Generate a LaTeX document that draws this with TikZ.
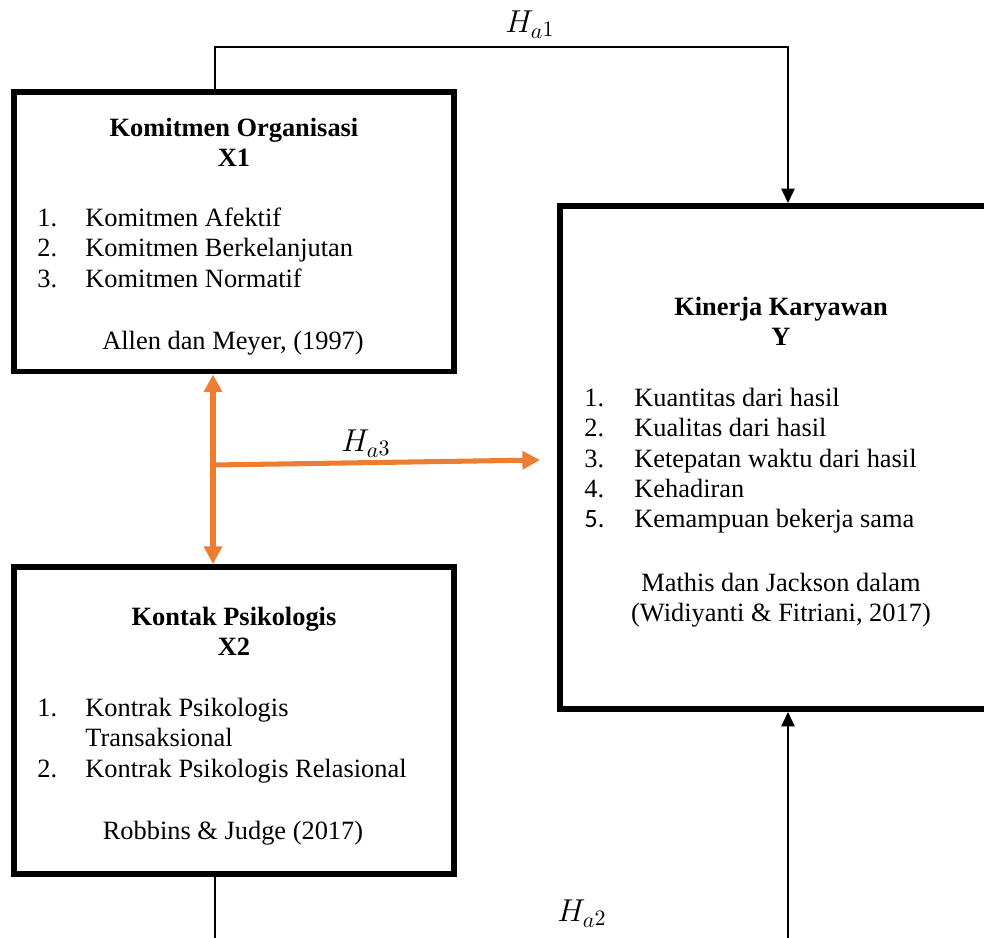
\documentclass[tikz,border=0pt]{standalone}
\usepackage{fontspec}
\setmainfont{Liberation Serif}
\newfontfamily\carlito{Carlito}
\usetikzlibrary{arrows.meta}
\definecolor{orng}{HTML}{ED7D31}
\begin{document}
\begin{tikzpicture}[x=0.4545pt, y=-0.4545pt,
  box/.style={draw, line width=2.7pt, inner sep=0pt},
  txt/.style={inner sep=0pt, font=\fontsize{12}{13.8}\selectfont},
  ttl/.style={inner sep=0pt, align=center, anchor=north, font=\fontsize{12}{13.8}\selectfont\bfseries},
  lst/.style={txt, align=left, anchor=north west},
  refs/.style={txt, align=center, anchor=north},
  hlab/.style={inner sep=0pt, font=\fontsize{14}{17}\selectfont},
  conn/.style={line width=0.75pt, -{Triangle[length=6.5pt,width=6pt]}},
  oline/.style={draw=orng, line width=2.3pt},
  otip/.style={-{Triangle[length=8pt,width=8pt]}},
  otips/.style={{Triangle[length=8pt,width=8pt]}-{Triangle[length=8pt,width=8pt]}}
]
\useasboundingbox (0,0) rectangle (984,938);
\clip (0,0) rectangle (984,938);

% boxes
\node[box, minimum width=440*0.4545pt, minimum height=279.5*0.4545pt] (x1) at (234,231.75) {};
\node[box, minimum width=440*0.4545pt, minimum height=307*0.4545pt] (x2) at (234,720.5) {};
\node[box, minimum width=442*0.4545pt, minimum height=503*0.4545pt] (y) at (781,457.5) {};

% X1 text
\node[ttl] (x1t) at (234,114.75) {\strut Komitmen Organisasi\\ X1};
\node[lst] (x1l) at (37,204.75) {\strut\makebox[21.8pt][l]{1.}Komitmen Afektif\\
  \makebox[21.8pt][l]{2.}Komitmen Berkelanjutan\\
  \makebox[21.8pt][l]{3.}Komitmen Normatif};
\node[refs] (x1r) at (233,327.75) {\strut Allen dan Meyer, (1997)};

% X2 text
\node[ttl] (x2t) at (234,603.75) {\strut Kontak Psikologis\\ X2};
\node[lst] (x2l) at (37,694.75) {\strut\makebox[21.8pt][l]{1.}Kontrak Psikologis\\
  \hspace*{21.8pt}Transaksional\\
  \makebox[21.8pt][l]{2.}Kontrak Psikologis Relasional};
\node[refs] (x2r) at (233,817.75) {\strut Robbins \& Judge (2017)};

% Y text
\node[ttl] (yt) at (781,293.75) {\strut Kinerja Karyawan\\ Y};
\node[lst] (yl) at (584,384.75) {\strut\makebox[22.7pt][l]{1.}Kuantitas dari hasil\\
  \makebox[22.7pt][l]{2.}Kualitas dari hasil\\
  \makebox[22.7pt][l]{3.}Ketepatan waktu dari hasil\\
  \makebox[22.7pt][l]{4.}Kehadiran\\
  \makebox[22.7pt][l]{{\carlito 5.}}Kemampuan bekerja sama};
\node[refs] (yr) at (781,569.75) {\strut Mathis dan Jackson dalam\\ (Widiyanti \& Fitriani, 2017)};

% labels
\node[hlab] (h1) at (530,25) {$H_{a\raisebox{1.2pt}{$\scriptstyle 1$}}$};
\node[hlab] (h3) at (366,444) {$H_{a\raisebox{1.2pt}{$\scriptstyle 3$}}$};
\node[hlab] (h2) at (582,914) {$H_{a\raisebox{1.2pt}{$\scriptstyle 2$}}$};

% helper coordinates
\coordinate (cA) at (215,47);
\coordinate (cB) at (788,47);
\coordinate (cC) at (788,960);
\coordinate (cD) at (213,0);
\coordinate (cE) at (213,465);
\coordinate (cF) at (540,460);

% black connectors
\draw[conn] (x1.north -| cA) |- (cB) -- (y.north -| cB);
\draw[conn] (x2.south -| cA) |- (cC) -- (y.south -| cC);

% orange connectors
\draw[oline, otips] (x1.south -| cD) -- (x2.north -| cD);
\draw[oline, otip] (cE) -- (cF);
\end{tikzpicture}
\end{document}
